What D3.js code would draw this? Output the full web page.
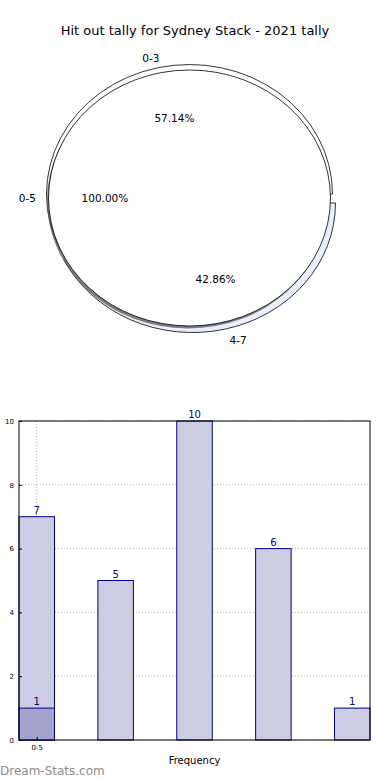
<!DOCTYPE html>
<html><head><meta charset="utf-8">
<script src="https://cdn.jsdelivr.net/npm/d3@7"></script>
<style>body{margin:0;background:#fff}svg{display:block}text{font-family:"DejaVu Sans",sans-serif}</style>
</head><body>
<script>
const title = "Hit out tally for Sydney Stack - 2021 tally";
const outerLabels = ["0-3", "4-7"];
const outerValues = [4, 3];
const innerLabels = ["0-5"];
const innerValues = [1];
const barValues = [7, 5, 10, 6, 1];
const highlightValues = [1];
const xTickLabels = ["0-5"];
const yTicks = [0, 2, 4, 6, 8, 10];

const W = 390, H = 780;
const svg = d3.select("body").append("svg").attr("width", W).attr("height", H);

svg.append("text").attr("x", 195).attr("y", 35).attr("text-anchor", "middle")
  .attr("font-size", 13).text(title);

// ---- Pie ----
const cx = 189.5, cy = 198, rx = 141, ry = 128;
const orx = 143, ory = 129.5;
const pie = d3.pie().sort(null).startAngle(0).endAngle(2 * Math.PI);
const total = d3.sum(outerValues);
const arcsO = pie(outerValues);
const fills = ["#ffffff", "#e9effb"];
const shifts = [[0, -4], [3, 5]];
const labelNudge = [[-3, 5], [10, -4]];
const pctNudge = [[4, 0], [4, 0]];
function toD3(a) { return Math.PI / 2 - a; }
const unitArc = d3.arc().innerRadius(0).outerRadius(1);

arcsO.slice().reverse().forEach((a, k) => {
  const i = arcsO.length - 1 - k;
  const s = toD3(a.endAngle), e = toD3(a.startAngle);
  svg.append("path")
    .attr("transform", `translate(${cx + shifts[i][0]},${cy + shifts[i][1]}) scale(${orx},${ory})`)
    .attr("d", unitArc({startAngle: s, endAngle: e}))
    .attr("fill", fills[i]).attr("stroke", "#000").attr("stroke-width", 0.8)
    .attr("vector-effect", "non-scaling-stroke");
});

// shadow of inner pie
svg.append("ellipse").attr("cx", cx - 1.5).attr("cy", cy + 2.5).attr("rx", rx).attr("ry", ry)
  .attr("fill", "#555").attr("opacity", 0.75);

// inner pie
const arcsI = pie(innerValues);
arcsI.forEach(a => {
  svg.append("ellipse").attr("cx", cx).attr("cy", cy).attr("rx", rx).attr("ry", ry)
    .attr("fill", "#fff").attr("stroke", "#000").attr("stroke-width", 0.8);
});

arcsO.forEach((a, i) => {
  const mid = (a.startAngle + a.endAngle) / 2;
  const lx = cx + shifts[i][0] + Math.cos(mid) * orx * 1.12 + labelNudge[i][0];
  const ly = cy + shifts[i][1] - Math.sin(mid) * ory * 1.12 + labelNudge[i][1];
  svg.append("text").attr("x", lx).attr("y", ly).attr("text-anchor", "middle")
    .attr("dominant-baseline", "central").attr("font-size", 10.5).text(outerLabels[i]);
  const px = cx + shifts[i][0] + Math.cos(mid) * orx * 0.6 + pctNudge[i][0];
  const py = cy + shifts[i][1] - Math.sin(mid) * ory * 0.6 + pctNudge[i][1];
  svg.append("text").attr("x", px).attr("y", py).attr("text-anchor", "middle")
    .attr("dominant-baseline", "central").attr("font-size", 10.5)
    .text((a.value / total * 100).toFixed(2) + "%");
});
arcsI.forEach((a, i) => {
  const mid = Math.PI;
  svg.append("text").attr("x", cx + Math.cos(mid) * rx * 1.15).attr("y", cy)
    .attr("text-anchor", "middle").attr("dominant-baseline", "central")
    .attr("font-size", 10.5).text(innerLabels[i]);
  svg.append("text").attr("x", cx + Math.cos(mid) * rx * 0.6).attr("y", cy)
    .attr("text-anchor", "middle").attr("dominant-baseline", "central")
    .attr("font-size", 10.5).text((a.value / d3.sum(innerValues) * 100).toFixed(2) + "%");
});

// ---- Bar chart ----
const L = 19, R = 370, T = 421, B = 740;
const bw = 0.45;
const x = d3.scaleLinear().domain([-bw / 2, barValues.length - 1 + bw / 2]).range([L, R]);
const y = d3.scaleLinear().domain([0, 10]).range([B, T]);
const g = svg.append("g");

yTicks.forEach(t => {
  g.append("line").attr("x1", L).attr("x2", R).attr("y1", y(t)).attr("y2", y(t))
    .attr("stroke", "#b8b8b8").attr("stroke-dasharray", "1,2").attr("stroke-width", 1);
});
xTickLabels.forEach((lab, i) => {
  g.append("line").attr("x1", x(i)).attr("x2", x(i)).attr("y1", T).attr("y2", B)
    .attr("stroke", "#b8b8b8").attr("stroke-dasharray", "1,2").attr("stroke-width", 1);
});

barValues.forEach((v, i) => {
  g.append("rect").attr("x", x(i - bw / 2)).attr("y", y(v))
    .attr("width", x(i + bw / 2) - x(i - bw / 2)).attr("height", y(0) - y(v))
    .attr("fill", "#ccccE3").attr("stroke", "#000080").attr("stroke-width", 1);
  g.append("text").attr("x", x(i)).attr("y", y(v) - 3).attr("text-anchor", "middle")
    .attr("font-size", 10).attr("fill", "#000080").text(v);
});
highlightValues.forEach((v, i) => {
  g.append("rect").attr("x", x(i - bw / 2)).attr("y", y(v))
    .attr("width", x(i + bw / 2) - x(i - bw / 2)).attr("height", y(0) - y(v))
    .attr("fill", "#a3a3cf").attr("stroke", "#000080").attr("stroke-width", 1);
  g.append("text").attr("x", x(i)).attr("y", y(v) - 3).attr("text-anchor", "middle")
    .attr("font-size", 10).attr("fill", "#000080").text(v);
});

g.append("rect").attr("x", L).attr("y", T).attr("width", R - L).attr("height", B - T)
  .attr("fill", "none").attr("stroke", "#000").attr("stroke-width", 1);

const yAxis = d3.axisLeft(y).tickValues(yTicks).tickSize(-3).tickPadding(5);
const ya = g.append("g").attr("transform", `translate(${L},0)`).call(yAxis);
ya.select(".domain").remove();
ya.selectAll("text").attr("font-size", 7).attr("font-family", "DejaVu Sans");
ya.selectAll("line").attr("stroke", "#000");

const xAxis = d3.axisBottom(x).tickValues(d3.range(xTickLabels.length))
  .tickFormat(i => xTickLabels[i]).tickSize(-3).tickPadding(5);
const xa = g.append("g").attr("transform", `translate(0,${B})`).call(xAxis);
xa.select(".domain").remove();
xa.selectAll("text").attr("font-size", 7).attr("font-family", "DejaVu Sans");

svg.append("text").attr("x", (L + R) / 2).attr("y", 764).attr("text-anchor", "middle")
  .attr("font-size", 10).text("Frequency");
svg.append("text").attr("transform", `translate(-2,${(T + B) / 2}) rotate(-90)`)
  .attr("text-anchor", "middle").attr("font-size", 10).text("Hit Out Tally");

svg.append("text").attr("x", 0).attr("y", 775).attr("font-size", 12)
  .attr("fill", "#8c8c8c").text("Dream-Stats.com");
</script>
</body></html>
